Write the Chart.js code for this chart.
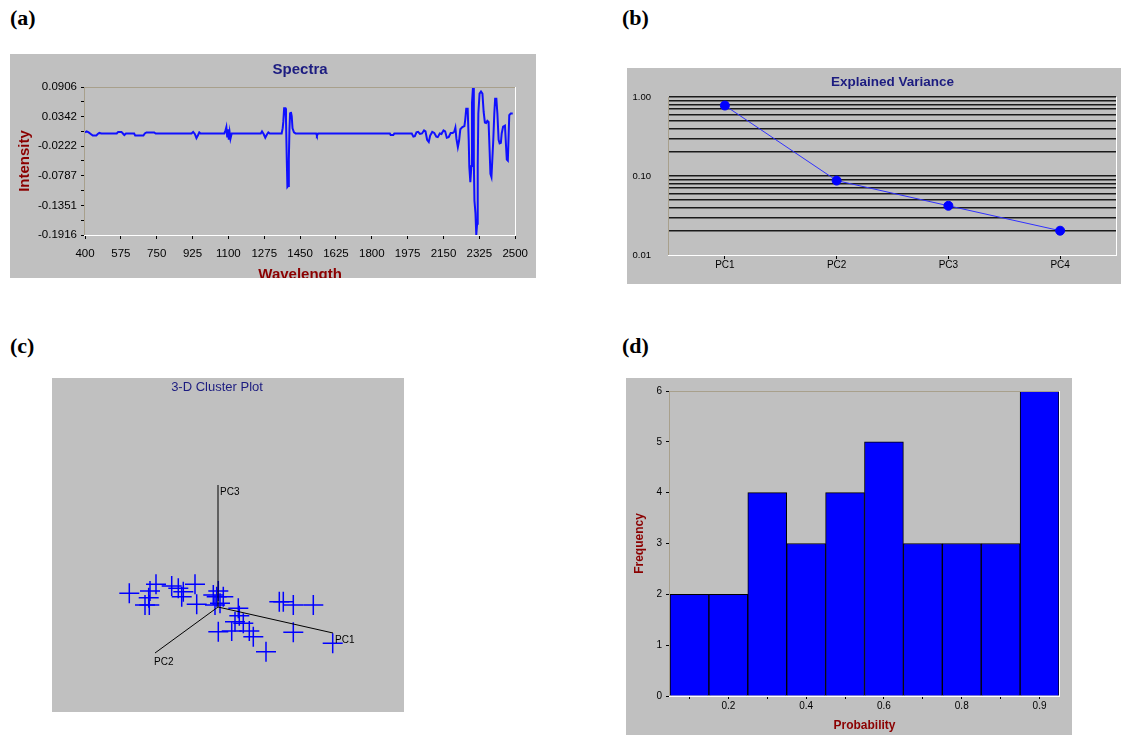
<!DOCTYPE html>
<html><head><meta charset="utf-8">
<script src="https://cdn.jsdelivr.net/npm/chart.js@4.4.1/dist/chart.umd.min.js"></script>
<style>
body{margin:0;background:#fff;width:1123px;height:735px;position:relative;overflow:hidden;}
.lbl{position:absolute;font-family:'Liberation Serif','Times New Roman',serif;font-weight:bold;font-size:22px;line-height:22px;color:#000;}
.box{position:absolute;background:#c0c0c0;overflow:hidden;}
canvas{display:block;}
</style></head><body>
<div class="lbl" style="left:10px;top:7px">(a)</div>
<div class="lbl" style="left:622px;top:7px">(b)</div>
<div class="lbl" style="left:10px;top:335px">(c)</div>
<div class="lbl" style="left:622px;top:335px">(d)</div>
<div class="box" style="left:10px;top:54px;width:526px;height:224px"><canvas id="ca" width="526" height="224"></canvas></div>
<div class="box" style="left:627px;top:68px;width:494px;height:216px"><canvas id="cb" width="494" height="216"></canvas></div>
<div class="box" style="left:52px;top:378px;width:352px;height:334px"><canvas id="cc" width="352" height="334"></canvas></div>
<div class="box" style="left:626px;top:378px;width:446px;height:357px"><canvas id="cd" width="446" height="357"></canvas></div>
<script>
// ---------- (a) Spectra ----------
const wavelength = [400,408,418,428,438,455,462,470,480,555,562,578,585,592,600,640,645,685,692,700,738,745,
  920,928,936,944,952,958,964,1080,1086,1090,1094,1098,1102,1106,1110,1116,1258,1264,1272,1280,1288,1295,1302,
  1360,1365,1368,1372,1378,1381,1385,1388,1392,1395,1398,1401,1405,1409,1413,1420,1428,1528,1532,1538,1888,1892,1905,1910,
  1995,2003,2010,2018,2026,2035,2045,2055,2062,2070,2078,2085,2095,2105,2115,2122,2132,2140,2150,2158,2166,2175,2185,2195,
  2203,2208,2213,2220,2226,2232,2242,2252,2256,2261,2268,2273,2276,2281,2286,2289,2294,2298,2301,2306,2310,2314,2317,2320,
  2326,2333,2340,2346,2352,2358,2364,2370,2375,2379,2384,2388,2393,2398,2402,2408,2413,2419,2424,2430,2434,2441,2450,2455,
  2459,2464,2468,2471,2478,2488];
const intensity = [0.004,0.006,0.004,0.001,-0.002,-0.002,0.001,0.003,0.002,0.002,0.005,0.005,0.002,-0.001,0.002,0.002,-0.002,-0.002,0.002,0.004,0.004,0.002,
  0.002,0.005,0.001,-0.007,-0.001,0.004,0.002,0.002,0.008,0.014,-0.004,0.010,-0.010,0.004,-0.008,0.002,0.002,0.006,0.001,-0.006,0.000,0.004,0.002,
  0.002,0.012,0.024,0.050,0.050,0.030,-0.048,-0.100,-0.098,-0.048,0.010,0.040,0.043,0.035,0.012,0.004,0.002,0.002,-0.002,0.002,0.002,-0.001,-0.001,0.002,
  0.002,-0.004,-0.003,0.004,0.005,0.001,0.002,0.008,0.006,-0.010,-0.014,-0.002,0.005,0.003,-0.004,-0.005,0.002,0.001,0.008,0.006,-0.006,-0.005,0.003,0.003,
  0.006,0.013,-0.008,-0.024,-0.012,0.010,0.014,0.016,0.028,0.049,0.049,-0.010,-0.062,-0.091,-0.060,0.060,0.0906,-0.050,-0.126,-0.150,-0.1916,-0.170,-0.060,0.040,
  0.078,0.082,0.078,0.043,0.023,0.022,0.026,0.024,-0.030,-0.075,-0.081,-0.050,-0.010,0.040,0.068,0.068,0.040,-0.010,-0.017,-0.016,0.002,0.015,0.017,-0.020,
  -0.048,-0.050,0.000,0.037,0.040,0.040];
const spectraXTicks = [400,575,750,925,1100,1275,1450,1625,1800,1975,2150,2325,2500];
const spectraYTickLabels = ['0.0906','0.0342','-0.0222','-0.0787','-0.1351','-0.1916'];

// ---------- (b) Explained variance ----------
const pcLabels = ['PC1','PC2','PC3','PC4'];
const explainedVariance = [0.78,0.0875,0.042,0.0203];
const varianceGridValues = [0.01,0.02,0.03,0.04,0.05,0.06,0.07,0.08,0.09,0.1,0.2,0.3,0.4,0.5,0.6,0.7,0.8,0.9,1.0];
const varianceLabelValues = [0.01,0.1,1.0];

// ---------- (c) 3-D cluster plot (projected scores) ----------
const clusterX = [-0.887,-0.68,-0.62,-0.693,-0.687,-0.73,-0.463,-0.397,-0.347,-0.363,-0.23,-0.213,-0.047,0.003,-0.013,0.02,-0.03,0.053,
  0.203,0.213,0.17,0.253,0.003,0.137,0.313,0.353,0.48,0.613,0.653,0.753,0.953,0.753,1.147];
const clusterY = [0.137,0.16,0.227,0.093,0.02,0.02,0.21,0.187,0.153,0.103,0.227,0.027,0.12,0.16,0.103,0.037,0.02,0.103,
  -0.013,-0.087,-0.147,-0.163,-0.247,-0.24,-0.24,-0.297,-0.447,0.053,0.053,0.02,0.02,-0.253,-0.363];
const axisNames = ['PC1','PC2','PC3'];
const axisEndX = [1.15,-0.63,0.0];
const axisEndY = [-0.26,-0.46,1.22];

// ---------- (d) Histogram ----------
const histTickLabels = ['','0.2','','0.4','','0.6','','0.8','','0.9'];
const frequency = [2,2,4,3,4,5,3,3,3,6];

const SANS = "'Liberation Sans', Arial, sans-serif";
const TAN = '#a8a08c';
const framePlugin = {
  id: 'frame',
  afterDraw(chart, args, o) {
    const a = chart.chartArea, c = chart.ctx;
    const l = Math.round(a.left), r = Math.round(a.right), t = Math.round(a.top), b = Math.round(a.bottom);
    c.save(); c.lineWidth = 1;
    const seg = (col, x1, y1, x2, y2) => { if (!col) return; c.strokeStyle = col; c.beginPath(); c.moveTo(x1, y1); c.lineTo(x2, y2); c.stroke(); };
    seg(o.top, l, t + 0.5, r, t + 0.5);
    seg(o.left, l - 0.5, t, l - 0.5, b + 1);
    seg(o.bottom, l - 1, b + 0.5, r + 1, b + 0.5);
    seg(o.right, r + 0.5, t, r + 0.5, b + 1);
    c.restore();
  }
};

// (a)
const yMajor = spectraYTickLabels.map(Number);
const yTicksA = [];
yMajor.forEach((v, i) => { yTicksA.push(v); if (i < yMajor.length - 1) yTicksA.push((v + yMajor[i + 1]) / 2); });
new Chart(document.getElementById('ca'), {
  type: 'line',
  data: { datasets: [{ data: wavelength.map((w, i) => ({ x: w, y: intensity[i] })), borderColor: '#1010ff', borderWidth: 2, pointRadius: 0, tension: 0 }] },
  plugins: [framePlugin],
  options: {
    responsive: false, animation: false, events: [],
    layout: { autoPadding: false, padding: { right: 12, left: 0, top: 0, bottom: 0 } },
    plugins: {
      legend: { display: false }, tooltip: { enabled: false },
      title: { display: true, fullSize: false, text: 'Spectra', color: '#1c1c80', font: { family: SANS, size: 15, weight: 'bold' }, padding: { top: 7, bottom: 8 } },
      frame: { top: TAN, left: TAN, bottom: '#ffffff', right: '#ffffff' }
    },
    scales: {
      x: {
        type: 'linear', min: 400, max: 2500,
        afterBuildTicks: s => { s.ticks = spectraXTicks.map(v => ({ value: v })); },
        afterFit: s => { s.height = 43; },
        grid: { drawOnChartArea: false, drawTicks: true, tickLength: 4, color: '#000' },
        border: { display: false },
        ticks: { autoSkip: false, maxRotation: 0, padding: 8, color: '#000', font: { family: SANS, size: 11.5 }, callback: v => String(v) },
        title: { display: true, text: 'Wavelength', color: '#8b0000', font: { family: SANS, size: 15, weight: 'bold' }, padding: { top: 0, bottom: -5.5 } }
      },
      y: {
        type: 'linear', min: -0.1916, max: 0.0906,
        afterBuildTicks: s => { s.ticks = yTicksA.map(v => ({ value: v })); },
        afterFit: s => { s.width = 75; },
        grid: { drawOnChartArea: false, drawTicks: true, tickLength: 4, color: '#000' },
        border: { display: false },
        ticks: { autoSkip: false, padding: 4, color: '#000', font: { family: SANS, size: 11.5 },
          callback: (v, i) => (i % 2 === 0 ? spectraYTickLabels[i / 2] : '') },
        title: { display: true, text: 'Intensity', color: '#8b0000', font: { family: SANS, size: 15, weight: 'bold' }, padding: { top: 6, bottom: 0 } }
      }
    }
  }
});

// (b)
new Chart(document.getElementById('cb'), {
  type: 'line',
  data: { labels: pcLabels, datasets: [{ data: explainedVariance, borderColor: '#3030ff', borderWidth: 1, pointRadius: 4.5, pointBackgroundColor: '#0000ff', pointBorderColor: '#0000ff', tension: 0 }] },
  plugins: [framePlugin],
  options: {
    responsive: false, animation: false, events: [],
    layout: { autoPadding: false, padding: { right: 5, left: 0, top: 0, bottom: 0 } },
    plugins: {
      legend: { display: false }, tooltip: { enabled: false },
      title: { display: true, fullSize: false, text: 'Explained Variance', color: '#1c1c80', font: { family: SANS, size: 13.5, weight: 'bold' }, padding: { top: 6, bottom: 6.8 } },
      frame: { left: TAN, bottom: '#ffffff', right: '#ffffff' }
    },
    scales: {
      x: {
        type: 'category', offset: true,
        afterFit: s => { s.height = 29; },
        grid: { offset: false, drawOnChartArea: false, drawTicks: true, tickLength: 4, color: '#000' },
        border: { display: false },
        ticks: { padding: 0, color: '#000', font: { family: SANS, size: 10 } }
      },
      y: {
        type: 'logarithmic', min: 0.01, max: 1.0,
        afterBuildTicks: s => { s.ticks = varianceGridValues.map(v => ({ value: v })); },
        afterFit: s => { s.width = 42; },
        grid: { drawTicks: false, lineWidth: 1.5, color: c => (c.tick && c.tick.value === 0.01 ? 'rgba(0,0,0,0)' : '#1a1a1a') },
        border: { display: false },
        ticks: { autoSkip: false, padding: 18, color: '#000', font: { family: SANS, size: 9.5 },
          callback: v => (varianceLabelValues.some(m => Math.abs(m - v) < 1e-9) ? Number(v).toFixed(2) : '') }
      }
    }
  }
});

// (c)
const axisLabelPlugin = {
  id: 'axisLabels',
  afterDatasetsDraw(chart) {
    const xs = chart.scales.x, ys = chart.scales.y, c = chart.ctx;
    const off = [[2, 7], [-1, 9], [2, 7]];
    c.save(); c.font = '10px ' + SANS; c.fillStyle = '#000'; c.textBaseline = 'middle'; c.textAlign = 'left';
    axisNames.forEach((n, i) => c.fillText(n, xs.getPixelForValue(axisEndX[i]) + off[i][0], ys.getPixelForValue(axisEndY[i]) + off[i][1]));
    c.restore();
  }
};
const axisDatasets = axisNames.map((n, i) => ({
  data: [{ x: 0, y: 0 }, { x: axisEndX[i], y: axisEndY[i] }], showLine: true, borderColor: '#000', borderWidth: 1, pointRadius: 0
}));
new Chart(document.getElementById('cc'), {
  type: 'scatter',
  data: { datasets: [...axisDatasets, {
    data: clusterX.map((x, i) => ({ x, y: clusterY[i] })), pointStyle: 'cross', pointRadius: 10, borderColor: '#0000ff', pointBorderWidth: 1.5, borderWidth: 1.5, showLine: false
  }] },
  plugins: [axisLabelPlugin],
  options: {
    responsive: false, animation: false, events: [],
    layout: { autoPadding: false, padding: { right: 22, left: 0, top: 0, bottom: 0 } },
    plugins: {
      legend: { display: false }, tooltip: { enabled: false },
      title: { display: true, text: '3-D Cluster Plot', color: '#1c1c80', font: { family: SANS, size: 13, weight: 'normal' }, padding: { top: 2, bottom: 2 } }
    },
    scales: {
      x: { type: 'linear', display: false, min: -1.66, max: 1.64 },
      y: { type: 'linear', display: false, min: -1.05, max: 2.094 }
    }
  }
});

// (d)
new Chart(document.getElementById('cd'), {
  type: 'bar',
  data: { labels: histTickLabels, datasets: [{ data: frequency, backgroundColor: '#0000ff', borderColor: '#000', borderWidth: 1, barPercentage: 1, categoryPercentage: 1 }] },
  plugins: [framePlugin],
  options: {
    responsive: false, animation: false, events: [],
    layout: { autoPadding: false, padding: { right: 13, left: 0, top: 13, bottom: 0 } },
    plugins: {
      legend: { display: false }, tooltip: { enabled: false },
      frame: { top: TAN, left: TAN, bottom: '#ffffff', right: '#ffffff' }
    },
    scales: {
      x: {
        type: 'category', offset: true,
        afterFit: s => { s.height = 39; },
        grid: { offset: false, drawOnChartArea: false, drawTicks: true, tickLength: 3, color: '#000' },
        border: { display: false },
        ticks: { autoSkip: false, maxRotation: 0, padding: 1.7, color: '#000', font: { family: SANS, size: 10 } },
        title: { display: true, text: 'Probability', color: '#8b0000', font: { family: SANS, size: 12, weight: 'bold' }, padding: { top: 0, bottom: 2.1 } }
      },
      y: {
        type: 'linear', min: 0, max: 6,
        afterFit: s => { s.width = 44; },
        grid: { drawOnChartArea: false, drawTicks: true, tickLength: 4, color: '#000' },
        border: { display: false },
        ticks: { stepSize: 1, padding: 4, color: '#000', font: { family: SANS, size: 10 } },
        title: { display: true, text: 'Frequency', color: '#8b0000', font: { family: SANS, size: 12, weight: 'bold' }, padding: { top: 6.8, bottom: 0 } }
      }
    }
  }
});
</script>
</body></html>
